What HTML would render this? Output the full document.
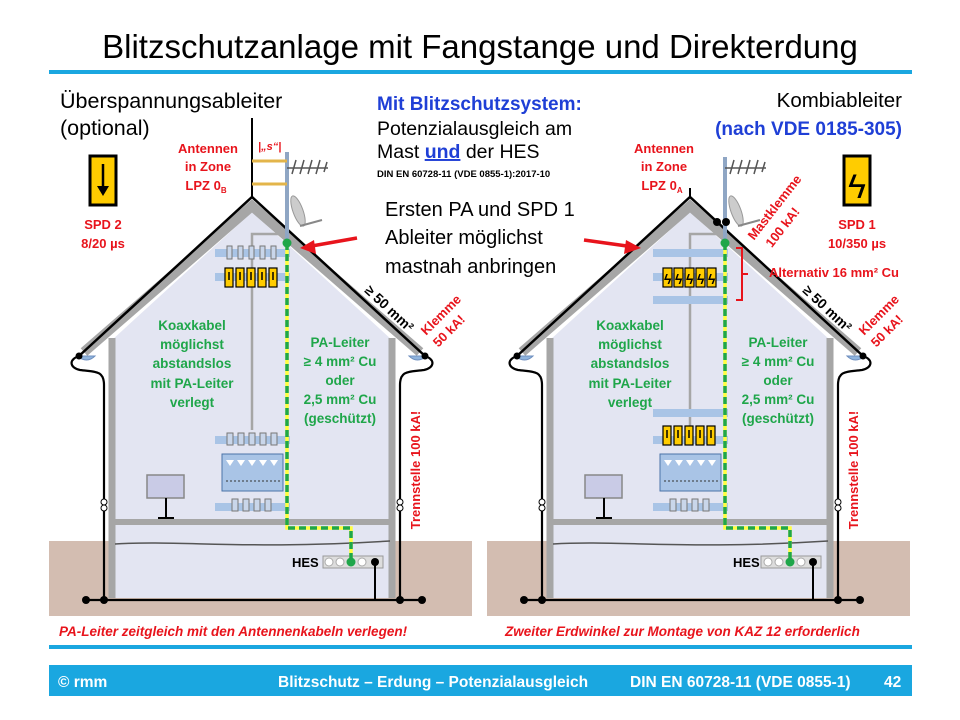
<!DOCTYPE html>
<html><head><meta charset="utf-8"><style>
body{margin:0;background:#fff}
svg{display:block;font-family:"Liberation Sans",sans-serif}
.g{fill:#1fa64a;font-weight:bold;font-size:13.5px;text-anchor:middle}
.r{fill:#e8141c;font-weight:bold;font-size:13px;text-anchor:middle}
</style></head><body>
<svg width="960" height="720" viewBox="0 0 960 720" xmlns="http://www.w3.org/2000/svg">
<defs>
<g id="house">
 <rect x="49" y="541" width="423" height="75" fill="#d3bdb1"/>
 <polygon points="252,212 112,340 112,598 392,598 392,340" fill="#e3e5f2"/>
 <path d="M84,352 L252,206 L420,352" fill="none" stroke="#a6a6a6" stroke-width="10"/>
 <path d="M112,338 V598 M392,338 V598" stroke="#a6a6a6" stroke-width="7"/>
 <rect x="115" y="519" width="274" height="6" fill="#a6a6a6"/>
 <path d="M115,544 C180,540 250,550 390,541" fill="none" stroke="#555" stroke-width="1.5"/>
 <path d="M79,356 L252,197 L425,356" fill="none" stroke="#000" stroke-width="2.5"/>
 <path d="M77,356 q10,8 18,0 z M427,356 q-10,8 -18,0 z" fill="#8fb4dd" stroke="#6f8fbf"/>
 <path d="M79,356 C68,360 70,368 80,370 C95,372 104,370 104,385 V600 M425,356 C436,360 434,368 424,370 C409,372 400,370 400,385 V600 M86,600 H422" fill="none" stroke="#000" stroke-width="2.2"/>
 <g fill="#000"><circle cx="79" cy="356" r="3.5"/><circle cx="425" cy="356" r="3.5"/>
 <circle cx="86" cy="600" r="4"/><circle cx="104" cy="600" r="4"/><circle cx="400" cy="600" r="4"/><circle cx="422" cy="600" r="4"/></g>
 <g fill="#fff" stroke="#000"><circle cx="104" cy="502" r="3"/><circle cx="104" cy="508" r="3"/><circle cx="400" cy="502" r="3"/><circle cx="400" cy="508" r="3"/></g>
 <rect x="147" y="475" width="37" height="23" fill="#c9cbe6" stroke="#888" stroke-width="1.5"/>
 <path d="M166,498 V518 M158,518 H174" stroke="#000" stroke-width="2"/>
 <path d="M252,240 V430" stroke="#a6a6a6" stroke-width="2.5"/>
 <path d="M252,240 V234 H286" fill="none" stroke="#a6a6a6" stroke-width="2.5"/>
 <rect x="323" y="556" width="60" height="12" fill="#ddd" stroke="#999"/>
 <path d="M375,562 V600" stroke="#000" stroke-width="2"/>
 <circle cx="375" cy="562" r="4" fill="#000"/>
 <rect x="215" y="436" width="75" height="8" fill="#a9c4e6"/>
 <rect x="222" y="454" width="61" height="37" fill="#a9c4e6" stroke="#4b74a8"/>
 <rect x="215" y="503" width="75" height="8" fill="#a9c4e6"/>
 <g stroke="#777" fill="#c9d6ea"><rect x="227" y="433" width="6" height="12"/><rect x="238" y="433" width="6" height="12"/><rect x="249" y="433" width="6" height="12"/><rect x="260" y="433" width="6" height="12"/><rect x="271" y="433" width="6" height="12"/>
 <rect x="232" y="499" width="6" height="12"/><rect x="243" y="499" width="6" height="12"/><rect x="254" y="499" width="6" height="12"/><rect x="265" y="499" width="6" height="12"/></g>
 <g fill="#fff"><polygon points="226,460 234,460 230,466"/><polygon points="237,460 245,460 241,466"/><polygon points="248,460 256,460 252,466"/><polygon points="259,460 267,460 263,466"/><polygon points="270,460 278,460 274,466"/></g>
 <path d="M226,481 H280" stroke="#333" stroke-dasharray="2,2"/>
</g>
</defs>
<rect width="960" height="720" fill="#fff"/>
<text x="480" y="58" font-size="33" text-anchor="middle" fill="#000">Blitzschutzanlage mit Fangstange und Direkterdung</text>
<rect x="49" y="70" width="863" height="4" fill="#1aa7e0"/>

<use href="#house"/>
<use href="#house" transform="translate(438,0)"/>

<path d="M252,118 V197" stroke="#000" stroke-width="2"/>
<path d="M287,152 V243" stroke="#8fa6c4" stroke-width="4"/>
<path d="M252,161 H287 M252,184 H287" stroke="#e3b54a" stroke-width="3"/>
<path d="M287,168 H328 M296,160 l-4,14 M304,160 l-4,14 M312,160 l-4,14 M320,160 l-4,14 M327,162 l-3,10" stroke="#555" stroke-width="1.5"/>
<ellipse cx="298" cy="211" rx="5" ry="16" fill="#ccc" stroke="#999" transform="rotate(-20 298 211)"/>
<path d="M300,226 L322,220" stroke="#888" stroke-width="2"/>
<text x="258" y="150" font-size="11" fill="#e8141c" font-style="italic" font-weight="bold">|„s“|</text>
<rect x="215" y="249" width="75" height="8" fill="#a9c4e6"/>
<rect x="215" y="273" width="75" height="8" fill="#a9c4e6"/>
<g fill="#ffcc00" stroke="#000" stroke-width="1.2"><rect x="225" y="268" width="8" height="19"/><rect x="236" y="268" width="8" height="19"/><rect x="247" y="268" width="8" height="19"/><rect x="258" y="268" width="8" height="19"/><rect x="269" y="268" width="8" height="19"/></g>
<g stroke="#777" fill="#c9d6ea"><rect x="227" y="246" width="5" height="13"/><rect x="238" y="246" width="5" height="13"/><rect x="249" y="246" width="5" height="13"/><rect x="260" y="246" width="5" height="13"/><rect x="271" y="246" width="5" height="13"/></g>
<path d="M229,272 v8 M240,272 v8 M251,272 v8 M262,272 v8 M273,272 v8" stroke="#000" stroke-width="1.5"/>
<path d="M287,243 V528 H351 V562" fill="none" stroke="#ffff40" stroke-width="3.5"/>
<path d="M287,243 V528 H351 V562" fill="none" stroke="#1fa64a" stroke-width="3.5" stroke-dasharray="7,4"/>
<circle cx="287" cy="243" r="4.5" fill="#1fa64a"/>
<g fill="#fff" stroke="#aaa"><circle cx="329" cy="562" r="4"/><circle cx="340" cy="562" r="4"/><circle cx="362" cy="562" r="4"/></g>
<circle cx="351" cy="562" r="4.5" fill="#1fa64a"/>
<text x="292" y="567" font-size="13" font-weight="bold">HES</text>
<rect x="90" y="156" width="26" height="49" fill="#ffcc00" stroke="#000" stroke-width="3"/>
<path d="M103,164 V190" stroke="#000" stroke-width="2.5"/><polygon points="97,186 109,186 103,196" fill="#000"/>

<path d="M690,188 V197" stroke="#000" stroke-width="2"/>
<path d="M725,157 V243" stroke="#8fa6c4" stroke-width="4"/>
<path d="M725,168 H766 M734,160 l-4,14 M742,160 l-4,14 M750,160 l-4,14 M758,160 l-4,14 M765,162 l-3,10" stroke="#555" stroke-width="1.5"/>
<ellipse cx="736" cy="211" rx="5" ry="16" fill="#ccc" stroke="#999" transform="rotate(-20 736 211)"/>
<path d="M738,226 L760,220" stroke="#888" stroke-width="2"/>
<circle cx="717" cy="222" r="4" fill="#000"/><circle cx="726" cy="222" r="4" fill="#000"/>
<rect x="653" y="249" width="75" height="8" fill="#a9c4e6"/>
<rect x="653" y="273" width="75" height="8" fill="#a9c4e6"/>
<rect x="653" y="296" width="75" height="8" fill="#a9c4e6"/>
<g fill="#ffcc00" stroke="#000" stroke-width="1.2"><rect x="663" y="268" width="9" height="19"/><rect x="674" y="268" width="9" height="19"/><rect x="685" y="268" width="9" height="19"/><rect x="696" y="268" width="9" height="19"/><rect x="707" y="268" width="9" height="19"/></g>
<g fill="#000" font-size="14" font-weight="bold"><text x="664" y="284">ϟ</text><text x="675" y="284">ϟ</text><text x="686" y="284">ϟ</text><text x="697" y="284">ϟ</text><text x="708" y="284">ϟ</text></g>
<rect x="653" y="409" width="75" height="8" fill="#a9c4e6"/>
<g fill="#ffcc00" stroke="#000" stroke-width="1.2"><rect x="663" y="426" width="8" height="19"/><rect x="674" y="426" width="8" height="19"/><rect x="685" y="426" width="8" height="19"/><rect x="696" y="426" width="8" height="19"/><rect x="707" y="426" width="8" height="19"/></g>
<path d="M667,430 v8 M678,430 v8 M689,430 v8 M700,430 v8 M711,430 v8" stroke="#000" stroke-width="1.5"/>
<path d="M725,243 V528 H790 V562" fill="none" stroke="#ffff40" stroke-width="3.5"/>
<path d="M725,243 V528 H790 V562" fill="none" stroke="#1fa64a" stroke-width="3.5" stroke-dasharray="7,4"/>
<circle cx="725" cy="243" r="4.5" fill="#1fa64a"/>
<g fill="#fff" stroke="#aaa"><circle cx="768" cy="562" r="4"/><circle cx="779" cy="562" r="4"/><circle cx="801" cy="562" r="4"/></g>
<circle cx="790" cy="562" r="4.5" fill="#1fa64a"/>
<text x="733" y="567" font-size="13" font-weight="bold">HES</text>
<path d="M736,248 H742 V300 H736 M742,274 H748" fill="none" stroke="#e8141c" stroke-width="2"/>
<rect x="844" y="156" width="26" height="49" fill="#ffcc00" stroke="#000" stroke-width="3"/>
<text x="857" y="198" font-size="34" text-anchor="middle" fill="#000">ϟ</text>

<path d="M357,238 L306,247" stroke="#e8141c" stroke-width="3.5"/><polygon points="300,248 314,240 316,254" fill="#e8141c"/>
<path d="M584,240 L634,247" stroke="#e8141c" stroke-width="3.5"/><polygon points="641,248 626,240 624,254" fill="#e8141c"/>

<text x="60" y="108" font-size="21.5">Überspannungsableiter</text>
<text x="60" y="135" font-size="21.5">(optional)</text>
<text x="902" y="107" font-size="20.5" text-anchor="end">Kombiableiter</text>
<text x="902" y="135" font-size="19" font-weight="bold" fill="#1f3fd6" text-anchor="end">(nach VDE 0185-305)</text>
<text x="377" y="110" font-size="19" font-weight="bold" fill="#1f3fd6">Mit Blitzschutzsystem:</text>
<text x="377" y="135" font-size="19.5">Potenzialausgleich am</text>
<text x="377" y="158" font-size="19.5">Mast <tspan fill="#1f3fd6" font-weight="bold" text-decoration="underline">und</tspan> der HES</text>
<text x="377" y="177" font-size="9.5" font-weight="bold">DIN EN 60728-11 (VDE 0855-1):2017-10</text>
<text x="385" y="216" font-size="20">Ersten PA und SPD 1</text>
<text x="385" y="244" font-size="20">Ableiter möglichst</text>
<text x="385" y="273" font-size="20">mastnah anbringen</text>

<text class="r" x="208" y="153">Antennen</text><text class="r" x="208" y="171">in Zone</text><text class="r" x="206" y="190">LPZ 0<tspan font-size="8" dy="3">B</tspan></text>
<text class="r" x="664" y="153">Antennen</text><text class="r" x="664" y="171">in  Zone</text><text class="r" x="662" y="190">LPZ 0<tspan font-size="8" dy="3">A</tspan></text>
<text class="r" x="103" y="229">SPD 2</text><text class="r" x="103" y="248">8/20 µs</text>
<text class="r" x="857" y="229">SPD 1</text><text class="r" x="857" y="248">10/350 µs</text>
<text class="r" x="834" y="277" text-anchor="middle">Alternativ 16 mm² Cu</text>
<text class="r" transform="translate(778,210) rotate(-52)">Mastklemme</text>
<text class="r" transform="translate(786,230) rotate(-52)">100 kA!</text>
<text class="r" transform="translate(444,318) rotate(-45)">Klemme</text>
<text class="r" transform="translate(452,334) rotate(-45)">50 kA!</text>
<text class="r" transform="translate(882,318) rotate(-45)">Klemme</text>
<text class="r" transform="translate(890,334) rotate(-45)">50 kA!</text>
<text class="r" transform="translate(420,470) rotate(-90)">Trennstelle 100 kA!</text>
<text class="r" transform="translate(858,470) rotate(-90)">Trennstelle 100 kA!</text>
<text font-size="14" font-weight="bold" text-anchor="middle" transform="translate(386,312) rotate(43)">≥ 50 mm²</text>
<text font-size="14" font-weight="bold" text-anchor="middle" transform="translate(824,312) rotate(43)">≥ 50 mm²</text>

<g class="g"><text x="192" y="330">Koaxkabel</text><text x="192" y="349">möglichst</text><text x="192" y="368">abstandslos</text><text x="192" y="388">mit PA-Leiter</text><text x="192" y="407">verlegt</text>
<text x="340" y="347">PA-Leiter</text><text x="340" y="366">≥ 4 mm² Cu</text><text x="340" y="385">oder</text><text x="340" y="404">2,5 mm² Cu</text><text x="340" y="423">(geschützt)</text>
<text x="630" y="330">Koaxkabel</text><text x="630" y="349">möglichst</text><text x="630" y="368">abstandslos</text><text x="630" y="388">mit PA-Leiter</text><text x="630" y="407">verlegt</text>
<text x="778" y="347">PA-Leiter</text><text x="778" y="366">≥ 4 mm² Cu</text><text x="778" y="385">oder</text><text x="778" y="404">2,5 mm² Cu</text><text x="778" y="423">(geschützt)</text></g>

<text x="59" y="636" font-size="13.5" font-weight="bold" font-style="italic" fill="#e8141c">PA-Leiter zeitgleich mit den Antennenkabeln verlegen!</text>
<text x="505" y="636" font-size="13.5" font-weight="bold" font-style="italic" fill="#e8141c">Zweiter Erdwinkel zur Montage von KAZ 12 erforderlich</text>
<rect x="49" y="645" width="863" height="4" fill="#1aa7e0"/>
<rect x="49" y="665" width="863" height="31" fill="#1aa7e0"/>
<g fill="#fff" font-size="15.5" font-weight="bold"><text x="58" y="687">© rmm</text><text x="278" y="687">Blitzschutz – Erdung – Potenzialausgleich</text><text x="630" y="687">DIN EN 60728-11 (VDE 0855-1)</text><text x="884" y="687">42</text></g>
</svg>
</body></html>
